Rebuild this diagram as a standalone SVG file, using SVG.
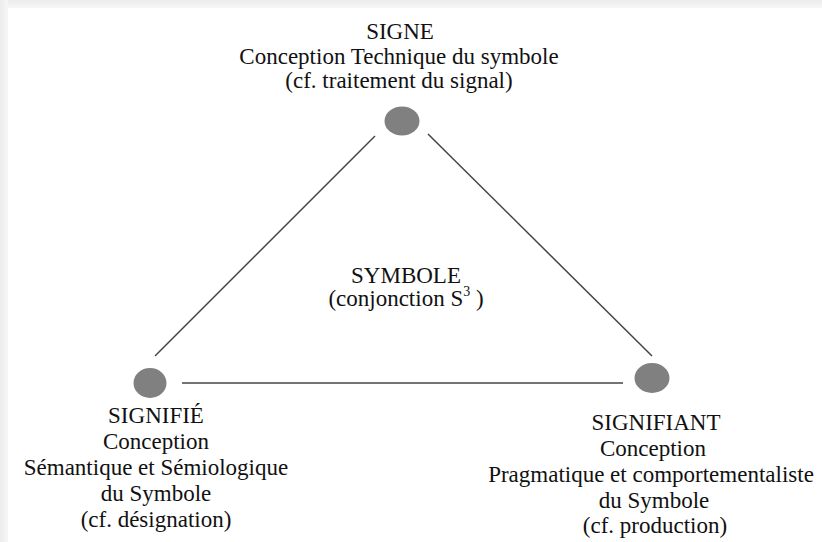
<svg xmlns="http://www.w3.org/2000/svg" width="822" height="542" viewBox="0 0 822 542">
  <style>
    text { font-family: "Liberation Serif", "DejaVu Serif", serif; font-size: 23px; fill: #111; text-anchor: middle; }
    .sup { font-size: 14px; }
    .dot { fill: #808080; }
    .edge { stroke: #444; stroke-width: 1.5; fill: none; }
  </style>
  <defs>
    <linearGradient id="topShade" x1="0" y1="0" x2="0" y2="1">
      <stop offset="0" stop-color="#ececec"/>
      <stop offset="1" stop-color="#f6f6f6"/>
    </linearGradient>
    <linearGradient id="leftShade" x1="0" y1="0" x2="1" y2="0">
      <stop offset="0" stop-color="#ececec"/>
      <stop offset="1" stop-color="#f6f6f6"/>
    </linearGradient>
  </defs>

  <!-- page frame -->
  <rect x="0" y="0" width="822" height="542" fill="#f4f4f4"/>
  <rect x="0" y="0" width="822" height="8" fill="url(#topShade)"/>
  <rect x="0" y="0" width="8" height="542" fill="url(#leftShade)"/>
  <rect x="8" y="8" width="814" height="534" fill="#ffffff"/>

  <!-- triangle sides -->
  <g id="connectors">
    <line class="edge" x1="155" y1="356" x2="375" y2="136"/>
    <line class="edge" x1="428" y1="134" x2="652" y2="356"/>
    <line class="edge" x1="182" y1="383" x2="623" y2="383" stroke="#333"/>
  </g>

  <g id="signe">
    <ellipse class="dot" cx="402" cy="121" rx="17.5" ry="14.5"/>
    <text x="400" y="39">SIGNE</text>
    <text x="399" y="64">Conception Technique du symbole</text>
    <text x="399" y="88">(cf. traitement du signal)</text>
  </g>

  <g id="symbole">
    <text x="406" y="283">SYMBOLE</text>
    <text x="406" y="306">(conjonction S<tspan class="sup" dy="-10">3</tspan><tspan dy="10"> )</tspan></text>
  </g>

  <g id="signifie">
    <ellipse class="dot" cx="150" cy="383" rx="16.5" ry="15"/>
    <text x="156" y="423">SIGNIFIÉ</text>
    <text x="156" y="449">Conception</text>
    <text x="156" y="475">Sémantique et Sémiologique</text>
    <text x="156" y="501">du Symbole</text>
    <text x="156" y="527">(cf. désignation)</text>
  </g>

  <g id="signifiant">
    <ellipse class="dot" cx="652" cy="378" rx="17.5" ry="15"/>
    <text x="656" y="430">SIGNIFIANT</text>
    <text x="653" y="456">Conception</text>
    <text x="651" y="482">Pragmatique et comportementaliste</text>
    <text x="654" y="508">du Symbole</text>
    <text x="655" y="533">(cf. production)</text>
  </g>
</svg>
